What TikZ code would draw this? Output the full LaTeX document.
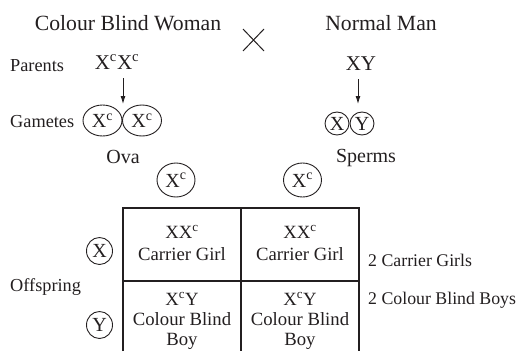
\documentclass[tikz,border=0pt]{standalone}
\usepackage{fontspec}
\setmainfont{Liberation Serif}
\usetikzlibrary{shapes.geometric,arrows.meta}
\definecolor{ink}{HTML}{231F20}
\newcommand{\cc}{\textsuperscript{c}}
\begin{document}
\begin{tikzpicture}[x=1pt,y=-1pt,
  every node/.style={text=ink,inner sep=0pt},
  head/.style={font=\fontsize{21.7}{24}\selectfont,anchor=base},
  side/.style={font=\fontsize{18.3}{20}\selectfont,anchor=base west},
  geno/.style={font=\fontsize{21}{24}\selectfont,anchor=base},
  cell/.style={font=\fontsize{18.7}{20}\selectfont,anchor=base},
  note/.style={font=\fontsize{17.8}{20}\selectfont,anchor=base west},
  gam/.style={draw=ink,ellipse,line width=0.9pt,font=\fontsize{20}{22}\selectfont},
  ova/.style={gam,minimum width=39pt,minimum height=31pt},
  egg/.style={gam,minimum width=38pt,minimum height=34pt},
  sperm/.style={gam,minimum width=24pt,minimum height=23pt},
  kid/.style={gam,minimum width=26pt,minimum height=27pt},
  arr/.style={draw=ink,line width=0.9pt,-{Latex[length=8pt,width=5pt]}},
  grid/.style={draw=ink,line width=1.2pt}
]
\useasboundingbox (0,0) rectangle (517,351);

% parents
\node[head] (woman) at (128,30) {Colour Blind Woman};
\node[head] (man) at (381,30) {Normal Man};
\draw[ink,line width=1pt] (243,29) -- (264,51) (243,51) -- (264,29);

\node[side] (parents) at (10,71) {Parents};
\node[geno] (wg) at (117,69) {X\cc X\cc};
\node[geno] (mg) at (361,70) {XY};

% gametes
\node[side] (gametes) at (10,127) {Gametes};
\node[ova] (o1) at (102.5,120.5) {X\cc};
\node[ova] (o2) at (142,120.5) {X\cc};
\node[cell,font=\fontsize{20}{22}\selectfont] (ovalbl) at (123,163) {Ova};
\node[sperm] (s1) at (337,123.5) {X};
\node[sperm] (s2) at (362,123.5) {Y};
\node[cell,font=\fontsize{20}{22}\selectfont] (spermlbl) at (366,162) {Sperms};

\coordinate (wtail) at (123,78);
\coordinate (whead) at (123,104);
\coordinate (mtail) at (358,79);
\coordinate (mhead) at (358,104);
\draw[arr] (wtail) -- (whead);
\draw[arr] (mtail) -- (mhead);

% Punnett square
\node[egg] (e1) at (176,180) {X\cc};
\node[egg] (e2) at (302.5,180) {X\cc};
\node[kid] (k1) at (99.5,251) {X};
\node[kid] (k2) at (99.5,325) {Y};
\node[side] (offspring) at (10,291) {Offspring};

\draw[grid] (123,351) -- (123,208) -- (359,208) -- (359,351);
\draw[grid] (241,208) -- (241,351);
\draw[grid] (123,281) -- (359,281);

\node[cell] (a1) at (182,238) {XX\cc};
\node[cell] (a2) at (182,260) {Carrier Girl};
\node[cell] (b1) at (300,238) {XX\cc};
\node[cell] (b2) at (300,260) {Carrier Girl};
\node[cell] (c1) at (182,305) {X\cc Y};
\node[cell] (c2) at (182,325) {Colour Blind};
\node[cell] (c3) at (182,345) {Boy};
\node[cell] (d1) at (300,305) {X\cc Y};
\node[cell] (d2) at (300,325) {Colour Blind};
\node[cell] (d3) at (300,345) {Boy};

\node[note] (girls) at (368,266) {2 Carrier Girls};
\node[note] (boys) at (368,304) {2 Colour Blind Boys};
\end{tikzpicture}
\end{document}
